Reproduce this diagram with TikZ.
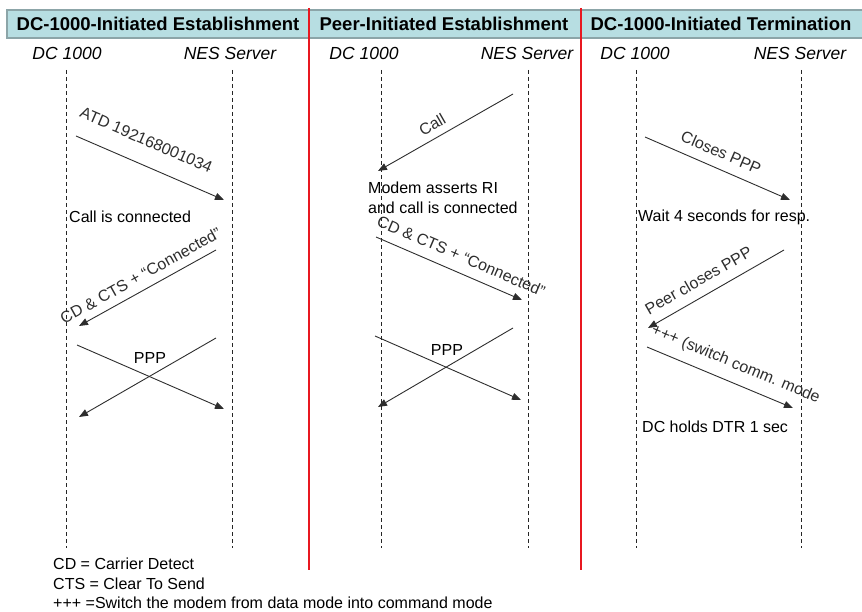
\documentclass[tikz,border=0pt]{standalone}
\usepackage{fontspec}
\setmainfont{Liberation Sans}
\usetikzlibrary{arrows.meta,positioning}
\definecolor{headfill}{RGB}{183,222,226}
\definecolor{headdraw}{RGB}{140,165,168}
\definecolor{sepred}{RGB}{232,24,32}
\definecolor{msggray}{RGB}{45,45,45}

\tikzset{
  lifeline/.style={dash pattern=on 4pt off 3pt, line width=0.9pt, black!85},
  msg/.style={-{Triangle[length=9pt,width=7pt]}, line width=0.9pt, msggray},
  msglabel/.style={midway, sloped, above=9pt, inner sep=1pt, font=\fontsize{16}{18}\selectfont},
  note/.style={anchor=west, inner sep=0pt, align=left, font=\fontsize{16}{19.5}\selectfont},
  actor/.style={font=\fontsize{17.5}{19}\selectfont\itshape},
  phase/.style={font=\fontsize{18.5}{20}\selectfont\bfseries},
  divider/.style={sepred, line width=1.8pt},
}

\begin{document}
\begin{tikzpicture}[x=1pt, y=-1pt]
    \useasboundingbox (0,0) rectangle (862,612);
    % header bar
    \draw[headdraw, line width=2.5pt, fill=headfill] (7,10) rectangle (866,38);
    \node[phase] (ph1) at (158,24) {DC-1000-Initiated Establishment};
    \node[phase] (ph2) at (444,24) {Peer-Initiated Establishment};
    \node[phase] (ph3) at (721,24) {DC-1000-Initiated Termination};
    % actors
    \foreach \nm/\x/\lab in {dc1/67/DC 1000, nes1/230/NES Server,
                             dc2/364/DC 1000, nes2/527/NES Server,
                             dc3/635/DC 1000, nes3/800/NES Server} {
        \node[actor] (\nm) at (\x,53) {\lab};
    }
    % lifelines
    \foreach \nm/\x in {la/66, lb/232, lc/381, ld/528, le/636, lf/801} {
        \coordinate (\nm top) at (\x,70);
        \coordinate (\nm bot) at (\x,548);
        \draw[lifeline] (\nm top) -- (\nm bot);
    }
    % dividers between the phases
    \foreach \nm/\x in {sepa/309, sepb/581} {
        \coordinate (\nm top) at (\x,8);
        \coordinate (\nm bot) at (\x,570);
        \draw[divider] (\nm top) -- (\nm bot);
    }

    % DC-1000-initiated establishment
    \coordinate (atd s) at (76,136);   \coordinate (atd e) at (224,200);
    \coordinate (cdA s) at (216,250);  \coordinate (cdA e) at (79,326);
    \coordinate (pppA s) at (77,345);  \coordinate (pppA e) at (224,409);
    \coordinate (pppB s) at (216,338); \coordinate (pppB e) at (79,417);
    \draw[msg] (atd s) -- (atd e) node[msglabel, pos=0.41, above=17pt] {ATD 192168001034};
    \node[note] (conn1) at (69,217) {Call is connected};
    \draw[msg] (cdA s) -- (cdA e) node[msglabel, above=7pt] {CD \& CTS + ``Connected''};
    \draw[msg] (pppA s) -- (pppA e);
    \draw[msg] (pppB s) -- (pppB e);
    \node[font=\fontsize{16}{18}\selectfont] (ppp1) at (150,358) {PPP};

    % peer-initiated establishment
    \coordinate (call s) at (513,94);  \coordinate (call e) at (378,171);
    \coordinate (cdB s) at (376,237);  \coordinate (cdB e) at (522,300);
    \coordinate (pppC s) at (375,336); \coordinate (pppC e) at (521,400);
    \coordinate (pppD s) at (513,328); \coordinate (pppD e) at (378,407);
    \draw[msg] (call s) -- (call e) node[msglabel, pos=0.55, above=6pt] {Call};
    \node[note] (ri) at (368,198) {Modem asserts RI\\and call is connected};
    \draw[msg] (cdB s) -- (cdB e) node[msglabel, pos=0.54] {CD \& CTS + ``Connected''};
    \draw[msg] (pppC s) -- (pppC e);
    \draw[msg] (pppD s) -- (pppD e);
    \node[font=\fontsize{16}{18}\selectfont] (ppp2) at (447,350) {PPP};

    % DC-1000-initiated termination
    \coordinate (clo s) at (645,137);  \coordinate (clo e) at (790,200);
    \coordinate (peer s) at (784,250); \coordinate (peer e) at (648,328);
    \coordinate (sw s) at (647,347);   \coordinate (sw e) at (793,408);
    \draw[msg] (clo s) -- (clo e) node[msglabel, pos=0.48] {Closes PPP};
    \node[note] (wait) at (638,217) {Wait 4 seconds for resp.};
    \draw[msg] (peer s) -- (peer e) node[msglabel, pos=0.57] {Peer closes PPP};
    \draw[msg] (sw s) -- (sw e) node[msglabel, pos=0.56] {+++ (switch comm. mode};
    \node[note] (dtr) at (642,427) {DC holds DTR 1 sec};

    % legend
    \node[note, anchor=north west] (legend) at (53,558)
        {CD = Carrier Detect\\CTS = Clear To Send\\+++ =Switch the modem from data mode into command mode};
\end{tikzpicture}
\end{document}
